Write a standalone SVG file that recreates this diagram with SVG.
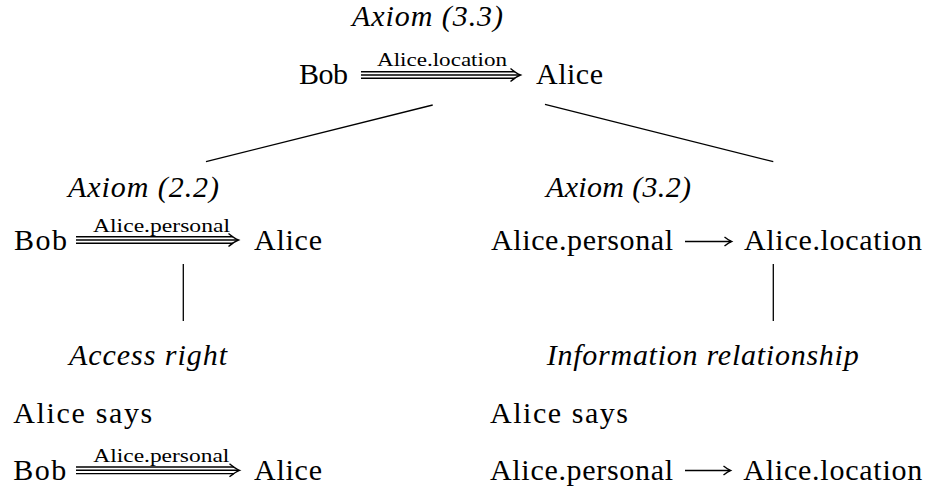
<svg xmlns="http://www.w3.org/2000/svg" xmlns:xlink="http://www.w3.org/1999/xlink" width="929" height="491" viewBox="0 0 929 491">
<style>
text{font-family:'Liberation Serif','DejaVu Serif',serif;fill:#000}
.t{font-size:30px}
.i{font-size:30px;font-style:italic}
.s{font-size:19px}
.ln{stroke:#000;stroke-width:1.3;fill:none}
.ar{stroke:#000;stroke-width:1.4;fill:none;stroke-linecap:butt}
</style>
<defs>
<path id="th" d="M-10,-6.5 Q-4,-1.5 0,0 Q-4,1.5 -10,6.5" class="ar"/>
<path id="lh" d="M-7,-4.5 Q-2.5,-1 0,0 Q-2.5,1 -7,4.5" class="ar"/>
</defs>
<g id="connectors">
<line class="ln" x1="206" y1="161.7" x2="432.7" y2="105"/>
<line class="ln" x1="545" y1="104.3" x2="773.3" y2="161.7"/>
<line class="ln" x1="183.3" y1="264" x2="183.3" y2="321"/>
<line class="ln" x1="773.3" y1="264" x2="773.3" y2="321"/>
</g>
<g id="root">
<text class="i" x="352" y="26" textLength="151" lengthAdjust="spacing">Axiom (3.3)</text>
<text class="t" x="299" y="84.3" textLength="49" lengthAdjust="spacing">Bob</text>
<text class="s" x="377" y="66" textLength="130" lengthAdjust="spacingAndGlyphs">Alice.location</text>
<path class="ar" d="M361,71.7H515M361,75H519M361,78.3H515"/>
<use xlink:href="#th" x="520.5" y="75"/>
<text class="t" x="536" y="84.3" textLength="67" lengthAdjust="spacing">Alice</text>
</g>
<g id="axiom22">
<text class="i" x="68" y="196.7" textLength="151" lengthAdjust="spacing">Axiom (2.2)</text>
<text class="t" x="14" y="249.5" textLength="53" lengthAdjust="spacing">Bob</text>
<text class="s" x="93" y="231.7" textLength="137" lengthAdjust="spacingAndGlyphs">Alice.personal</text>
<path class="ar" d="M76,236.7H233M76,240H237M76,243.3H233"/>
<use xlink:href="#th" x="238.5" y="240"/>
<text class="t" x="254" y="249.5" textLength="68" lengthAdjust="spacing">Alice</text>
</g>
<g id="axiom32">
<text class="i" x="546" y="196.7" textLength="145" lengthAdjust="spacing">Axiom (3.2)</text>
<text class="t" x="491" y="249.5" textLength="182" lengthAdjust="spacing">Alice.personal</text>
<path class="ar" d="M685,241.5H731"/>
<use xlink:href="#lh" x="731.5" y="241.5"/>
<text class="t" x="744" y="249.5" textLength="178" lengthAdjust="spacing">Alice.location</text>
</g>
<g id="access">
<text class="i" x="69" y="365" textLength="158" lengthAdjust="spacing">Access right</text>
<text class="t" x="13.3" y="422.7" textLength="139" lengthAdjust="spacing">Alice says</text>
<text class="s" x="93.3" y="461.5" textLength="136" lengthAdjust="spacingAndGlyphs">Alice.personal</text>
<path class="ar" d="M76,467H234M76,470.3H238M76,473.6H234"/>
<use xlink:href="#th" x="239.5" y="470.3"/>
<text class="t" x="13.3" y="479.8" textLength="53" lengthAdjust="spacing">Bob</text>
<text class="t" x="254" y="479.8" textLength="68" lengthAdjust="spacing">Alice</text>
</g>
<g id="info">
<text class="i" x="546.7" y="365" textLength="312" lengthAdjust="spacing">Information relationship</text>
<text class="t" x="490" y="422.7" textLength="138" lengthAdjust="spacing">Alice says</text>
<text class="t" x="490" y="479.5" textLength="183" lengthAdjust="spacing">Alice.personal</text>
<path class="ar" d="M685,470.5H730"/>
<use xlink:href="#lh" x="730.5" y="470.5"/>
<text class="t" x="743.3" y="479.5" textLength="179" lengthAdjust="spacing">Alice.location</text>
</g>
</svg>
